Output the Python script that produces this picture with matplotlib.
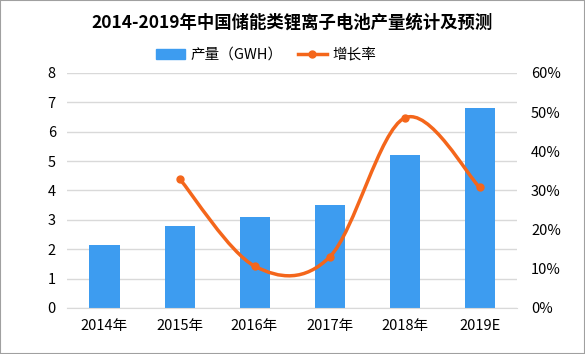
import numpy as np
import matplotlib.pyplot as plt
from matplotlib.path import Path
from matplotlib.patches import PathPatch, Rectangle
from matplotlib.lines import Line2D
from matplotlib.ticker import FuncFormatter

plt.rcParams['font.family'] = ['Noto Sans CJK SC', 'DejaVu Sans']

years = ['2014年', '2015年', '2016年', '2017年', '2018年', '2019E']
output = [2.15, 2.8, 3.1, 3.5, 5.2, 6.8]
growth_years = [1, 2, 3, 4, 5]
growth = [33.0, 10.7, 13.0, 48.5, 30.8]

bar_color = '#3d9cf0'
line_color = '#f4661b'

fig = plt.figure(figsize=(5.85, 3.54), dpi=100)
ax = fig.add_axes([0.1145, 0.13, 0.7695, 0.664])
ax2 = ax.twinx()

x = np.arange(len(years))
ax.bar(x, output, width=0.4, color=bar_color, zorder=2)
ax.set_xlim(-0.5, len(years) - 0.5)
ax.set_ylim(0, 8)
ax.set_yticks(range(0, 9))
ax.grid(axis='y', color='#d9d9d9', linewidth=1, zorder=0)
ax.set_xticks(x)
ax.set_xticklabels(years)

# smooth line (Catmull-Rom style bezier, like Excel's smoothed line)
px = np.array(growth_years, dtype=float)
py = np.array(growth, dtype=float)
verts = [(px[0], py[0])]
codes = [Path.MOVETO]
t = 1.0 / 6
for i in range(len(px) - 1):
    p0 = (px[max(i - 1, 0)], py[max(i - 1, 0)])
    p1 = (px[i], py[i])
    p2 = (px[i + 1], py[i + 1])
    p3 = (px[min(i + 2, len(px) - 1)], py[min(i + 2, len(px) - 1)])
    c1 = (p1[0] + (p2[0] - p0[0]) * t, p1[1] + (p2[1] - p0[1]) * t)
    c2 = (p2[0] - (p3[0] - p1[0]) * t, p2[1] - (p3[1] - p1[1]) * t)
    verts += [c1, c2, p2]
    codes += [Path.CURVE4] * 3
ax2.add_patch(PathPatch(Path(verts, codes), facecolor='none',
                        edgecolor=line_color, linewidth=2.5, zorder=3))
ax2.plot(growth_years, growth, 'o', color=line_color, markersize=5, zorder=4)
ax2.set_ylim(0, 60)
ax2.set_yticks(range(0, 61, 10))
ax2.yaxis.set_major_formatter(FuncFormatter(lambda v, p: '%d%%' % v))

for a in (ax, ax2):
    for s in a.spines.values():
        s.set_visible(False)
    a.tick_params(length=0, labelsize=10.5, colors='black')
ax.spines['bottom'].set_visible(True)
ax.spines['bottom'].set_color('#d9d9d9')
ax.tick_params(axis='y', pad=8)
ax2.tick_params(axis='y', pad=10)
ax.tick_params(axis='x', pad=8)

fig.text(0.5, 0.935, '2014-2019年中国储能类锂离子电池产量统计及预测',
         ha='center', va='center', fontsize=12.5, fontweight='bold')

handles = [Rectangle((0, 0), 1, 1, color=bar_color),
           Line2D([0], [0], color=line_color, linewidth=2.5, marker='o', markersize=5)]
fig.legend(handles, ['产量（GWH）', '增长率'], loc='center', bbox_to_anchor=(0.455, 0.845),
           ncol=2, frameon=False, fontsize=10.5, handlelength=2.0, handletextpad=0.4,
           columnspacing=1.0)

fig.patches.append(Rectangle((0, 0), 1, 1, transform=fig.transFigure, fill=False,
                             edgecolor='#a0a0a0', linewidth=1.5))

fig.savefig('out.png', dpi=100)
